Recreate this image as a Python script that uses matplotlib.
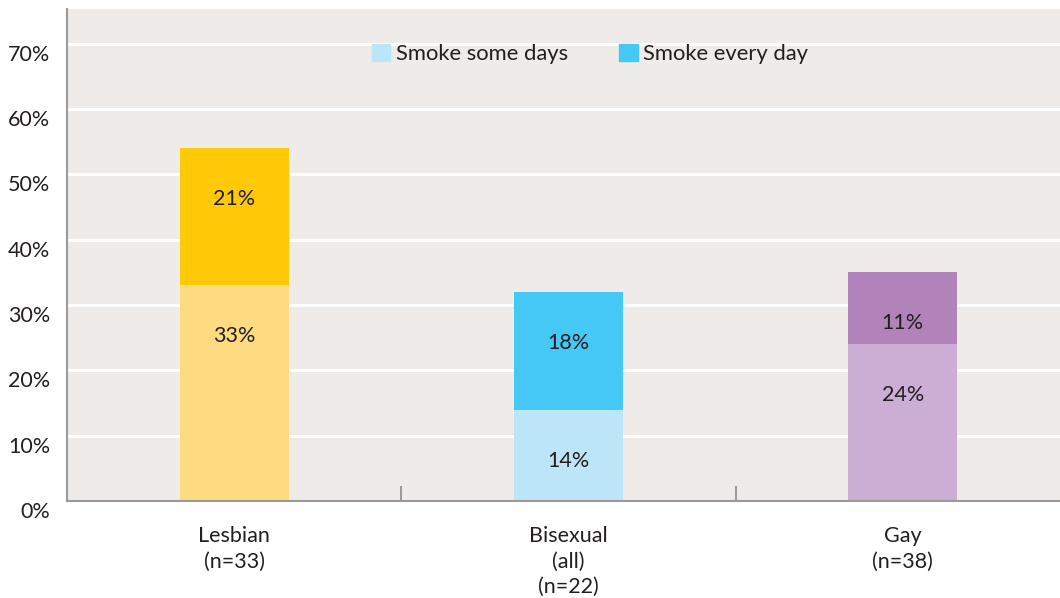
import matplotlib.pyplot as plt
import matplotlib.transforms as mtransforms
from matplotlib.patches import Patch

# data
categories = ["Lesbian\n(n=33)", "Bisexual\n(all)\n(n=22)", "Gay\n(n=38)"]
some_days = [33, 14, 24]
every_day = [21, 18, 11]
yticks = [0, 10, 20, 30, 40, 50, 60, 70]

some_colors = ["#FEDB80", "#BDE5F8", "#CCADD3"]
every_colors = ["#FFC907", "#45C8F5", "#B282BA"]

plt.rcParams['font.family'] = ['Lato', 'DejaVu Sans']
text_color = "#231F20"

fig = plt.figure(figsize=(10.6, 5.98), dpi=100)
W, H = 1060, 598
# plot area: left 67px, right ~1070px (cut off by figure), top 9px, bottom 501px
ax = fig.add_axes([67 / W, (H - 501) / H, (1070 - 67) / W, (501 - 9) / H])
ax.set_facecolor("#EFEBE8")

x = range(len(categories))
width = 0.326
ax.bar(x, some_days, width, color=some_colors, zorder=3)
ax.bar(x, every_day, width, bottom=some_days, color=every_colors, zorder=3)

# value labels sit about 50px below the top of each segment
for i in x:
    top1 = some_days[i]
    top2 = some_days[i] + every_day[i]
    for top, val in [(top1, some_days[i]), (top2, every_day[i])]:
        ax.annotate(f"{val}%", (i, top), xytext=(0, -51), textcoords='offset pixels',
                    ha='center', va='center', fontsize=15.5, color=text_color, zorder=4)

ax.set_xlim(-0.5, 2.5)
ax.set_ylim(0, 75.3)

ax.set_yticks(yticks)
ax.set_yticklabels([f"{t}%" for t in yticks], fontsize=15.5, color=text_color)
ax.tick_params(axis='y', length=0, pad=12)
offset = mtransforms.ScaledTranslation(0, -9 / 100, fig.dpi_scale_trans)
for lbl in ax.get_yticklabels():
    lbl.set_transform(lbl.get_transform() + offset)
ax.grid(axis='y', color='white', linewidth=2.2, zorder=1)

ax.set_xticks(list(x))
ax.set_xticklabels(categories, fontsize=15.5, color=text_color, linespacing=1.35)
ax.tick_params(axis='x', length=0, pad=18)
# small separators between categories, pointing up from the axis
ax.set_xticks([0.5, 1.5], minor=True)
ax.tick_params(axis='x', which='minor', direction='in', length=11, width=1.2, color='#8C8C8C')

for s in ['top', 'right']:
    ax.spines[s].set_visible(False)
for s in ['left', 'bottom']:
    ax.spines[s].set_color('#9A9A9A')
    ax.spines[s].set_linewidth(1.5)
    ax.spines[s].set_zorder(5)

handles = [Patch(color="#BDE5F8", label="Smoke some days"),
           Patch(color="#45C8F5", label="Smoke every day")]
fig.legend(handles=handles, loc='center', bbox_to_anchor=(590 / W, 1 - 54 / H),
           ncol=2, frameon=False, fontsize=15.8, handlelength=0.85, handleheight=0.85,
           handletextpad=0.25, columnspacing=2.35, labelcolor=text_color)

fig.savefig("out.png", dpi=100)
